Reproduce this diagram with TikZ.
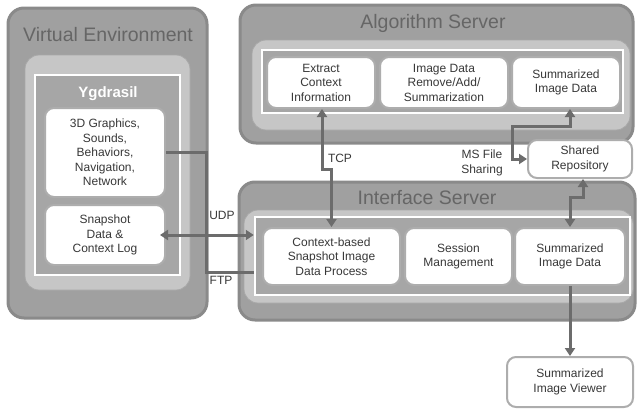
\documentclass[tikz,border=0pt]{standalone}
\usepackage{fontspec}
\setmainfont{Liberation Sans}
\usetikzlibrary{arrows.meta}
\definecolor{rimgray}{HTML}{8A8A8A}
\definecolor{midgray}{HTML}{A0A0A0}
\definecolor{softgray}{HTML}{C6C6C6}
\definecolor{framegray}{HTML}{A6A6A6}
\definecolor{boxrim}{HTML}{ADADAD}
\definecolor{textgray}{HTML}{383838}
\definecolor{titlegray}{HTML}{666666}
\definecolor{arrowgray}{HTML}{6C6C6C}
\begin{document}
\begin{tikzpicture}[x=1pt,y=-1pt,
  outerbox/.style={draw=rimgray, line width=3pt, fill=midgray, rounded corners=16pt, inner sep=0pt},
  softbox/.style={draw=softgray!85!black, line width=.8pt, fill=softgray, rounded corners=14pt, inner sep=0pt},
  framebox/.style={draw=white, line width=2.5pt, fill=framegray, inner sep=0pt},
  infobox/.style={draw=boxrim, line width=2pt, fill=white, rounded corners=9pt, align=center, text=textgray, font=\fontsize{12}{14.5}\selectfont, inner sep=0pt},
  titletext/.style={text=titlegray, font=\fontsize{19.5}{22}\selectfont},
  lbl/.style={text=textgray, font=\fontsize{12}{14.5}\selectfont, align=center, inner sep=0pt},
  arr/.style={draw=arrowgray, line width=3pt, -{Triangle[length=8pt,width=10pt]}},
  biarr/.style={arr, {Triangle[length=8pt,width=10pt]}-{Triangle[length=8pt,width=10pt]}}]
\useasboundingbox (0,0) rectangle (638,415);

% virtual environment
\node[outerbox, minimum width=199, minimum height=310] (venv) at (107.5,163) {};
\node[titletext] (venvtitle) at (108,35) {Virtual Environment};
\node[softbox, minimum width=165, minimum height=235] (venvsoft) at (107.5,172.5) {};
\node[framebox, minimum width=145, minimum height=200] (yframe) at (107.5,175) {};
\node[text=white, font=\bfseries\fontsize{15}{18}\selectfont] (ygdrasil) at (108,94) {Ygdrasil};
\node[infobox, minimum width=120, minimum height=89] (gfx) at (105,152.5) {3D Graphics,\\Sounds,\\Behaviors,\\Navigation,\\Network};
\node[infobox, minimum width=120, minimum height=60] (snap) at (105,235) {Snapshot\\Data \&\\Context Log};

% algorithm server
\node[outerbox, minimum width=393, minimum height=138] (algo) at (436.5,74) {};
\node[titletext] (algotitle) at (433,23) {Algorithm Server};
\node[softbox, minimum width=378, minimum height=90] (algosoft) at (441,85) {};
\node[framebox, minimum width=361, minimum height=63] (algframe) at (442.5,81.5) {};
\node[infobox, minimum width=108, minimum height=51] (extract) at (321,82.5) {Extract\\Context\\Information};
\node[infobox, minimum width=128, minimum height=51] (imgproc) at (444,82.5) {Image Data\\Remove/Add/\\Summarization};
\node[infobox, minimum width=108, minimum height=51] (algsum) at (566,82.5) {Summarized\\Image Data};

\node[infobox, minimum width=104, minimum height=38] (repo) at (580,159) {Shared\\Repository};

% interface server
\node[outerbox, minimum width=396, minimum height=138] (intf) at (437,251) {};
\node[titletext] (intftitle) at (427,198) {Interface Server};
\node[softbox, minimum width=389, minimum height=93] (intfsoft) at (438.5,256.5) {};
\node[framebox, minimum width=375, minimum height=78] (intframe) at (442.5,256) {};
\node[infobox, minimum width=137, minimum height=57] (ctx) at (331.5,256.5) {Context-based\\Snapshot Image\\Data Process};
\node[infobox, minimum width=107, minimum height=57] (sess) at (458.5,256.5) {Session\\Management};
\node[infobox, minimum width=110, minimum height=57] (intsum) at (570,256.5) {Summarized\\Image Data};

\node[infobox, minimum width=126, minimum height=50] (viewer) at (570,382) {Summarized\\Image Viewer};

% connectors
\draw[arr, -] (gfx.east) -- ++(40,0) |- ([yshift=-16pt]intframe.west);
\draw[biarr] ([xshift=-6pt]snap.east) -- ([yshift=21pt]intframe.west);
\draw[biarr] ([xshift=1pt]extract.south) -- ++(0,60) -| (ctx.north);
\draw[biarr] ([xshift=4pt]algsum.south) -- ++(0,17) -| ([xshift=-15pt]repo.west) -- (repo.west);
\draw[biarr] ([xshift=3pt]repo.south) -- ++(0,18) -| (intsum.north);
\draw[arr] (intsum.south) -- (viewer.north);

\node[lbl] (udp) at (222,215) {UDP};
\node[lbl] (ftp) at (221,280) {FTP};
\node[lbl] (tcp) at (340,158) {TCP};
\node[lbl] (msfile) at (482,163) {MS File\\Sharing};
\end{tikzpicture}
\end{document}
